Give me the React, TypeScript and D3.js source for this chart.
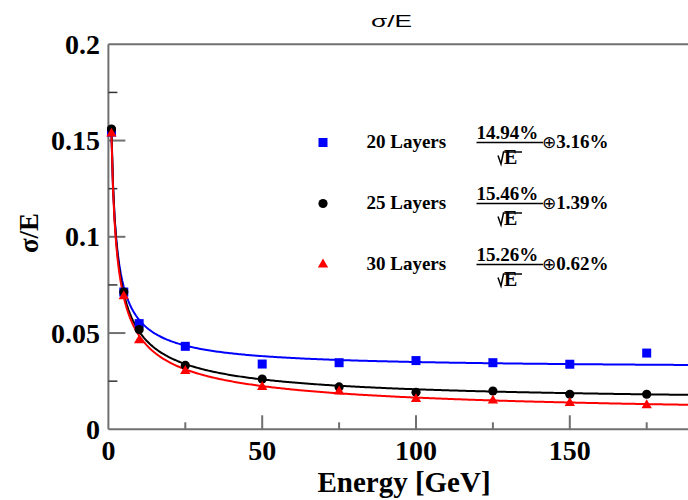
import React from "react";
import * as d3 from "d3";

const energies = [1, 5, 10, 25, 50, 75, 100, 125, 150, 175];
const layers20 = [0.1544, 0.0713, 0.0549, 0.0431, 0.0339, 0.0346, 0.0357, 0.0346, 0.0338, 0.0396];
const layers25 = [0.1560, 0.0713, 0.0518, 0.0332, 0.0261, 0.0220, 0.0192, 0.0199, 0.0182, 0.0182];
const layers30 = [0.1536, 0.0691, 0.0462, 0.0303, 0.0220, 0.0196, 0.0157, 0.0149, 0.0137, 0.0125];

const seriesNames = ["20 Layers", "25 Layers", "30 Layers"];
const stochastic = ["14.94%", "15.46%", "15.26%"];
const constantTerm = ["3.16%", "1.39%", "0.62%"];
const fitA = [14.94, 15.46, 15.26];
const fitB = [3.16, 1.39, 0.62];
const colors = ["#0000ff", "#000000", "#ff0000"];
const shapes = ["square", "circle", "triangle"];

const xMajor = [0, 50, 100, 150];
const xMinor = [25, 75, 125, 175];
const yMajor = [0, 0.05, 0.1, 0.15, 0.2];
const yMajorLabels = ["0", "0.05", "0.1", "0.15", "0.2"];
const yMinor = [0.025, 0.075, 0.125, 0.175];

const W = 688;
const H = 500;
const x = d3.scaleLinear().domain([0, 190]).range([108.4, 108.4 + 190 * 3.076]);
const y = d3.scaleLinear().domain([0, 0.2]).range([429.3, 44.3]);

const serif = "'Liberation Serif', 'Times New Roman', serif";
const sans = "'Liberation Sans', Arial, sans-serif";
const axisColor = "#707070";

function Marker({ shape, cx, cy, color }: { shape: string; cx: number; cy: number; color: string }) {
  if (shape === "square") return <rect x={cx - 4.5} y={cy - 4.5} width={9} height={9} fill={color} />;
  if (shape === "circle") return <circle cx={cx} cy={cy} r={4.6} fill={color} />;
  const sym = d3.symbol().type(d3.symbolTriangle).size(46)();
  return <path d={sym || ""} transform={`translate(${cx},${cy})`} fill={color} />;
}

export default function App() {
  const data = [layers20, layers25, layers30];
  const fitE = d3.range(1, 190.5, 0.5);
  const line = d3
    .line<number[]>()
    .x((d) => x(d[0]))
    .y((d) => y(d[1]))
    .curve(d3.curveLinear);

  const legendX = 323;
  const legendY0 = 142.5;
  const rowGap = 61;

  return (
    <svg
      width={W}
      height={H}
      style={{ position: "absolute", left: 0, top: 0, background: "#fff" }}
    >
      <defs>
        <clipPath id="plotclip">
          <rect x={108} y={30} width={600} height={402} />
        </clipPath>
      </defs>
      <rect x={0} y={0} width={W} height={H} fill="#fff" />

      {/* title */}
      <text x={391.5} y={26.5} textAnchor="middle" fontFamily={sans} fontSize={17} textLength={41} lengthAdjust="spacingAndGlyphs">
        σ/E
      </text>

      {/* frame */}
      <line x1={x(0)} y1={y(0.2)} x2={W} y2={y(0.2)} stroke={axisColor} strokeWidth={2} />
      <line x1={x(0)} y1={y(0.2)} x2={x(0)} y2={y(0)} stroke={axisColor} strokeWidth={2} />
      <line x1={x(0)} y1={y(0)} x2={W} y2={y(0)} stroke={axisColor} strokeWidth={2} />

      {/* y ticks */}
      {yMajor.map((v, i) => (
        <g key={"ym" + i}>
          {i > 0 && i < yMajor.length - 1 && (
            <line x1={x(0)} x2={x(0) + 17} y1={y(v)} y2={y(v)} stroke={axisColor} strokeWidth={2} />
          )}
          <text
            x={100}
            y={y(v)}
            textAnchor="end"
            dominantBaseline="central"
            fontFamily={serif}
            fontWeight="bold"
            fontSize={28}
          >
            {yMajorLabels[i]}
          </text>
        </g>
      ))}
      {yMinor.map((v, i) => (
        <line key={"yn" + i} x1={x(0)} x2={x(0) + 9} y1={y(v)} y2={y(v)} stroke="#333" strokeWidth={1.5} />
      ))}

      {/* x ticks */}
      {xMajor.map((v, i) => (
        <g key={"xm" + i}>
          {i > 0 && <line x1={x(v)} x2={x(v)} y1={y(0)} y2={y(0) - 14} stroke={axisColor} strokeWidth={2} />}
          <text x={x(v)} y={460} textAnchor="middle" fontFamily={serif} fontWeight="bold" fontSize={28}>
            {String(v)}
          </text>
        </g>
      ))}
      {xMinor.map((v, i) => (
        <line key={"xn" + i} x1={x(v)} x2={x(v)} y1={y(0)} y2={y(0) - 7} stroke={axisColor} strokeWidth={2} />
      ))}

      {/* axis titles */}
      <text x={404} y={492} textAnchor="middle" fontFamily={serif} fontWeight="bold" fontSize={29}>
        Energy [GeV]
      </text>
      <text
        transform="translate(38,233) rotate(-90)"
        textAnchor="middle"
        fontFamily={serif}
        fontWeight="bold"
        fontSize={27}
      >
        σ/E
      </text>

      {/* fit curves */}
      <g clipPath="url(#plotclip)">
        {fitA.map((a, k) => {
          const pts = fitE.map((e) => [e, Math.sqrt((a / 100) ** 2 / e + (fitB[k] / 100) ** 2)]);
          return <path key={"fit" + k} d={line(pts) || ""} fill="none" stroke={colors[k]} strokeWidth={2} />;
        })}
      </g>

      {/* data points */}
      {data.map((vals, k) => (
        <g key={"s" + k}>
          {vals.map((v, i) => (
            <Marker key={i} shape={shapes[k]} cx={x(energies[i])} cy={y(v)} color={colors[k]} />
          ))}
        </g>
      ))}

      {/* legend */}
      {seriesNames.map((name, k) => {
        const cy = legendY0 + k * rowGap;
        const base = cy + 5;
        const fracX = 476.5;
        return (
          <g key={"lg" + k}>
            <Marker shape={shapes[k]} cx={legendX} cy={cy} color={colors[k]} />
            <text x={366.5} y={base} fontFamily={serif} fontWeight="bold" fontSize={19}>
              {name}
            </text>
            <text x={fracX} y={cy - 4} fontFamily={serif} fontWeight="bold" fontSize={19}>
              {stochastic[k]}
            </text>
            <line x1={fracX} x2={543} y1={cy} y2={cy} stroke="#000" strokeWidth={1.5} />
            <path
              d={`M${498},${cy + 13} L${501},${cy + 21.5} L${503.5},${cy + 9.5} L${522},${cy + 9.5}`}
              fill="none"
              stroke="#000"
              strokeWidth={1.5}
            />
            <text x={504} y={cy + 21} fontFamily={serif} fontWeight="bold" fontSize={20}>
              E
            </text>
            <text x={542} y={base} fontFamily={serif} fontWeight="bold" fontSize={19}>
              <tspan fontFamily="'DejaVu Sans', sans-serif" fontWeight="normal" fontSize={17}>
                ⊕
              </tspan>
              <tspan>{constantTerm[k]}</tspan>
            </text>
          </g>
        );
      })}
    </svg>
  );
}
